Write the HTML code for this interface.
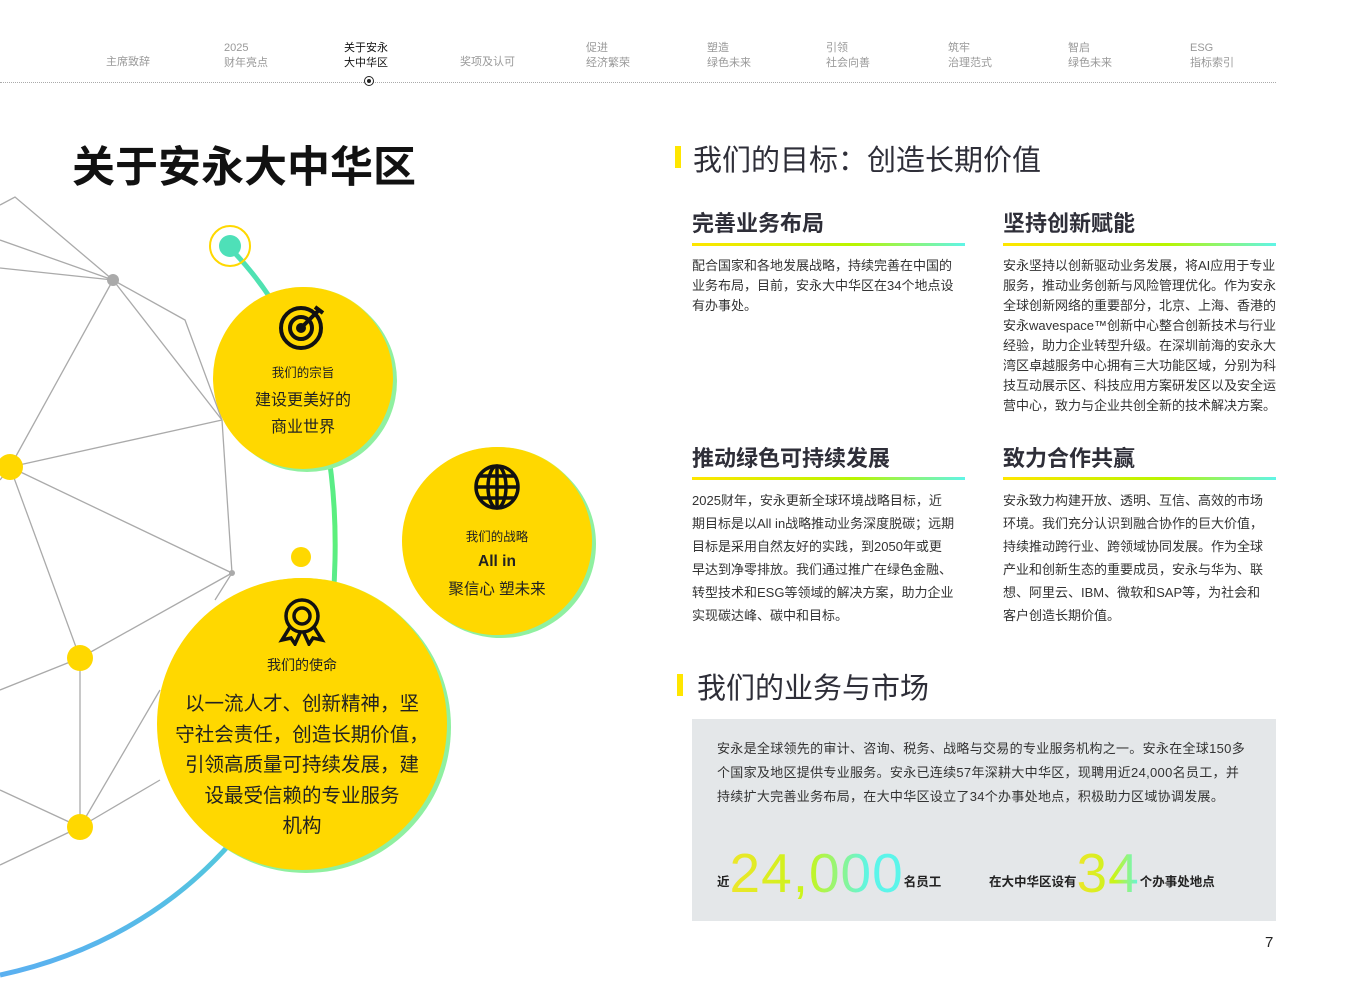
<!DOCTYPE html><html><head><meta charset="utf-8"><style>
body{margin:0;width:1346px;height:992px;background:#fff;position:relative;overflow:hidden;font-family:"Liberation Sans","Noto Sans CJK SC",sans-serif;color:#222}
.a{position:absolute;white-space:nowrap}
.nav{font-size:11px;color:#999;line-height:15px;text-align:left}
.h2{font-size:29px;color:#2e2e38;}
.bar{position:absolute;width:6px;height:22px;background:#ffe600}
.h3{font-size:22px;font-weight:bold;color:#2e2e38}
.ul{position:absolute;height:3px;background:linear-gradient(90deg,#ffe600,#b8f500 60%,#5ff5e8)}
.p{font-size:13px;line-height:20px;color:#333}
.p2{font-size:13px;line-height:23px;color:#333}
.cir{position:absolute;border-radius:50%;background:#ffd800;box-shadow:4px 3px 0 #8ff0a0, 1px 0 0 #d8ef3a;text-align:center;color:#222}
</style></head><body>
<div class="a nav" style="left:106px;top:55px">主席致辞</div>
<div class="a nav" style="left:224px;top:41px">2025<br>财年亮点</div>
<div class="a nav" style="left:344px;top:41px;color:#111">关于安永<br>大中华区</div>
<div class="a nav" style="left:460px;top:55px">奖项及认可</div>
<div class="a nav" style="left:586px;top:41px">促进<br>经济繁荣</div>
<div class="a nav" style="left:707px;top:41px">塑造<br>绿色未来</div>
<div class="a nav" style="left:826px;top:41px">引领<br>社会向善</div>
<div class="a nav" style="left:948px;top:41px">筑牢<br>治理范式</div>
<div class="a nav" style="left:1068px;top:41px">智启<br>绿色未来</div>
<div class="a nav" style="left:1190px;top:41px">ESG<br>指标索引</div>
<div class="a" style="left:0;top:82px;width:1276px;border-top:1px dotted #aaa"></div>
<div class="a" style="left:364px;top:76px;width:8px;height:8px;border:1.5px solid #222;border-radius:50%;background:#fff"><div style="margin:2px;width:4px;height:4px;border-radius:50%;background:#222"></div></div>

<div class="a" style="left:72px;top:133px;font-size:43px;font-weight:bold;color:#111">关于安永大中华区</div>

<svg class="a" style="left:0;top:0" width="660" height="992">
<defs><linearGradient id="g" x1="0" y1="0" x2="0" y2="1"><stop offset="0" stop-color="#4ee0b8"/><stop offset=".4" stop-color="#5cf07a"/><stop offset=".7" stop-color="#4ed8d0"/><stop offset="1" stop-color="#5ab0f0"/></linearGradient></defs>
<g stroke="#aaa" stroke-width="1.3" fill="none">
<polyline points="0,205 15,197 113,280 0,240"/>
<line x1="0" y1="268" x2="113" y2="280"/>
<polyline points="113,280 185,320 222,420 232,573 215,600"/>
<line x1="113" y1="280" x2="222" y2="420"/>
<line x1="113" y1="280" x2="10" y2="467"/>
<line x1="10" y1="467" x2="222" y2="420"/>
<line x1="10" y1="467" x2="232" y2="573"/>
<line x1="10" y1="467" x2="80" y2="658"/>
<line x1="10" y1="467" x2="0" y2="480"/>
<line x1="232" y1="573" x2="80" y2="658"/>
<line x1="0" y1="690" x2="80" y2="658"/>
<line x1="80" y1="658" x2="80" y2="827"/>
<line x1="80" y1="827" x2="160" y2="690"/>
<line x1="80" y1="827" x2="160" y2="780"/>
<line x1="0" y1="790" x2="80" y2="827"/>
<line x1="0" y1="865" x2="80" y2="827"/>
</g>
<path d="M230,248 C 300,320 338,420 335,560 C 332,760 210,930 0,975" stroke="url(#g)" stroke-width="5" fill="none"/>
<circle cx="113" cy="280" r="6" fill="#aaa"/>
<circle cx="232" cy="573" r="3" fill="#aaa"/>
<circle cx="10" cy="467" r="13" fill="#ffd800"/>
<circle cx="80" cy="658" r="13" fill="#ffd800"/>
<circle cx="80" cy="827" r="13" fill="#ffd800"/>
<circle cx="301" cy="557" r="10" fill="#ffd800"/>
<circle cx="230" cy="246" r="20" fill="none" stroke="#ffd800" stroke-width="2"/>
<circle cx="230" cy="246" r="11" fill="#4ee0b8"/>
</svg>

<div class="cir" style="left:213px;top:287px;width:180px;height:182px">
<svg width="52" height="50" style="margin-top:14px" viewBox="0 0 52 50" fill="none" stroke="#111" stroke-width="4"><circle cx="24" cy="27" r="20"/><circle cx="24" cy="27" r="11"/><circle cx="24" cy="27" r="3" fill="#111"/><path d="M24 27 L42 9 M38 6 L42 9 L46 12"/></svg>
<div style="font-size:12.5px;margin-top:6px">我们的宗旨</div>
<div style="font-size:16px;line-height:27px;margin-top:6px">建设更美好的<br>商业世界</div></div>

<div class="cir" style="left:402px;top:447px;width:190px;height:188px">
<svg width="48" height="48" style="margin-top:16px" viewBox="0 0 48 48" fill="none" stroke="#111" stroke-width="3.5"><circle cx="24" cy="24" r="21"/><ellipse cx="24" cy="24" rx="9" ry="21"/><line x1="24" y1="3" x2="24" y2="45"/><line x1="3" y1="24" x2="45" y2="24"/><path d="M7 13H41M7 35H41"/></svg>
<div style="font-size:12.5px;margin-top:10px">我们的战略</div>
<div style="font-size:15.5px;font-weight:bold;margin-top:8px">All in</div>
<div style="font-size:15.5px;margin-top:6px">聚信心 塑未来</div></div>

<div class="cir" style="left:157px;top:578px;width:290px;height:292px">
<svg width="48" height="50" style="margin-top:18px" viewBox="0 0 48 50" fill="none" stroke="#111" stroke-width="3.5"><circle cx="24" cy="20" r="16"/><circle cx="24" cy="20" r="8"/><path d="M12 31 L4 44 L13 42 L17 48 L22 37 M36 31 L44 44 L35 42 L31 48 L26 37"/></svg>
<div style="font-size:14px;margin-top:4px">我们的使命</div>
<div style="font-size:19.5px;line-height:30.5px;margin-top:14px">以一流人才、创新精神，坚<br>守社会责任，创造长期价值，<br>引领高质量可持续发展，建<br>设最受信赖的专业服务<br>机构</div></div>

<div class="bar" style="left:675px;top:146px"></div>
<div class="a h2" style="left:693px;top:137px">我们的目标：创造长期价值</div>
<div class="a h3" style="left:692px;top:206px">完善业务布局</div>
<div class="ul" style="left:692px;top:243px;width:273px"></div>
<div class="a p" style="left:692px;top:256px">配合国家和各地发展战略，持续完善在中国的<br>业务布局，目前，安永大中华区在34个地点设<br>有办事处。</div>
<div class="a h3" style="left:1003px;top:206px">坚持创新赋能</div>
<div class="ul" style="left:1003px;top:243px;width:273px"></div>
<div class="a p" style="left:1003px;top:256px">安永坚持以创新驱动业务发展，将AI应用于专业<br>服务，推动业务创新与风险管理优化。作为安永<br>全球创新网络的重要部分，北京、上海、香港的<br>安永wavespace™创新中心整合创新技术与行业<br>经验，助力企业转型升级。在深圳前海的安永大<br>湾区卓越服务中心拥有三大功能区域，分别为科<br>技互动展示区、科技应用方案研发区以及安全运<br>营中心，致力与企业共创全新的技术解决方案。</div>

<div class="a h3" style="left:692px;top:441px">推动绿色可持续发展</div>
<div class="ul" style="left:692px;top:477px;width:273px"></div>
<div class="a p2" style="left:692px;top:489px">2025财年，安永更新全球环境战略目标，近<br>期目标是以All in战略推动业务深度脱碳；远期<br>目标是采用自然友好的实践，到2050年或更<br>早达到净零排放。我们通过推广在绿色金融、<br>转型技术和ESG等领域的解决方案，助力企业<br>实现碳达峰、碳中和目标。</div>
<div class="a h3" style="left:1003px;top:441px">致力合作共赢</div>
<div class="ul" style="left:1003px;top:477px;width:273px"></div>
<div class="a p2" style="left:1003px;top:489px">安永致力构建开放、透明、互信、高效的市场<br>环境。我们充分认识到融合协作的巨大价值，<br>持续推动跨行业、跨领域协同发展。作为全球<br>产业和创新生态的重要成员，安永与华为、联<br>想、阿里云、IBM、微软和SAP等，为社会和<br>客户创造长期价值。</div>

<div class="bar" style="left:677px;top:674px"></div>
<div class="a h2" style="left:697px;top:665px">我们的业务与市场</div>
<div class="a" style="left:692px;top:719px;width:584px;height:202px;background:#e4e7e9"></div>
<div class="a" style="left:717px;top:737px;font-size:13px;letter-spacing:0.3px;line-height:24px;color:#333">安永是全球领先的审计、咨询、税务、战略与交易的专业服务机构之一。安永在全球150多<br>个国家及地区提供专业服务。安永已连续57年深耕大中华区，现聘用近24,000名员工，并<br>持续扩大完善业务布局，在大中华区设立了34个办事处地点，积极助力区域协调发展。</div>
<div class="a" style="left:717px;top:848px;font-size:12.5px;font-weight:bold;color:#222;line-height:50px">近<span style="font-size:55px;font-weight:normal;background:linear-gradient(90deg,#ede62a,#c8f51a 45%,#5cf5ea 80%);-webkit-background-clip:text;background-clip:text;color:transparent;vertical-align:-6px;letter-spacing:1px">24,000</span>名员工</div>
<div class="a" style="left:989px;top:848px;font-size:12.5px;font-weight:bold;color:#222;line-height:50px">在大中华区设有<span style="font-size:55px;font-weight:normal;background:linear-gradient(90deg,#ede62a,#c8f51a 60%,#5cf5ea);-webkit-background-clip:text;background-clip:text;color:transparent;vertical-align:-6px;letter-spacing:1px">34</span>个办事处地点</div>
<div class="a" style="left:1265px;top:934px;font-size:15px;color:#222">7</div>
</body></html>
